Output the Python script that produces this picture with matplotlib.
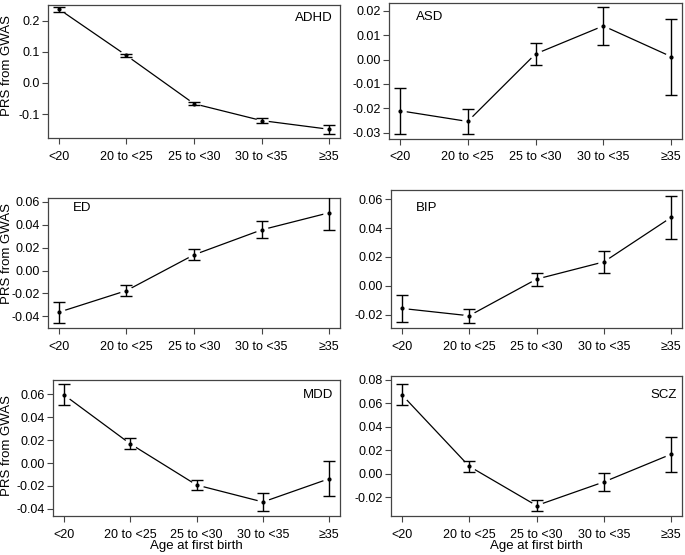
import numpy as np
import matplotlib.pyplot as plt

plt.rcParams['font.family'] = ['Liberation Sans', 'DejaVu Sans']

groups = ['<20', '20 to <25', '25 to <30', '30 to <35', '≥35']

traits = ['ADHD', 'ASD', 'ED', 'BIP', 'MDD', 'SCZ']

adhd_mean = [0.237, 0.088, -0.067, -0.121, -0.149]
adhd_err = [0.008, 0.004, 0.004, 0.007, 0.015]

asd_mean = [-0.0210, -0.0254, 0.0023, 0.0138, 0.0012]
asd_err = [0.0095, 0.0050, 0.0045, 0.0078, 0.0156]

ed_mean = [-0.0365, -0.0176, 0.0138, 0.0356, 0.0506]
ed_err = [0.0090, 0.0050, 0.0047, 0.0075, 0.0155]

bip_mean = [-0.0157, -0.0208, 0.0046, 0.0166, 0.0475]
bip_err = [0.0094, 0.0050, 0.0046, 0.0078, 0.0150]

mdd_mean = [0.0595, 0.0168, -0.0191, -0.0339, -0.0136]
mdd_err = [0.0090, 0.0048, 0.0047, 0.0075, 0.0153]

scz_mean = [0.0675, 0.0063, -0.0273, -0.0071, 0.0166]
scz_err = [0.0093, 0.0049, 0.0046, 0.0077, 0.0149]

means = [adhd_mean, asd_mean, ed_mean, bip_mean, mdd_mean, scz_mean]
errs = [adhd_err, asd_err, ed_err, bip_err, mdd_err, scz_err]

yticks = [
    [-0.1, 0.0, 0.1, 0.2],
    [-0.03, -0.02, -0.01, 0.00, 0.01, 0.02],
    [-0.04, -0.02, 0.00, 0.02, 0.04, 0.06],
    [-0.02, 0.00, 0.02, 0.04, 0.06],
    [-0.04, -0.02, 0.00, 0.02, 0.04, 0.06],
    [-0.02, 0.00, 0.02, 0.04, 0.06, 0.08],
]
tick_fmt = ['%.1f', '%.2f', '%.2f', '%.2f', '%.2f', '%.2f']
ylims = [(-0.177, 0.250), (-0.0326, 0.0232), (-0.0503, 0.0635),
         (-0.0293, 0.0665), (-0.0461, 0.0722), (-0.0362, 0.0834)]

# pixel boxes (left, top, right, bottom)
boxes = [(48, 5, 340, 138), (389, 3, 682, 139),
         (48, 198, 340, 328), (391, 190, 682, 328),
         (53, 380, 340, 516), (391, 376, 682, 516)]
# trait label anchor in axes fraction, and alignment
label_pos = [(0.976, 0.90, 'right'), (0.092, 0.90, 'left'),
             (0.086, 0.925, 'left'), (0.086, 0.87, 'left'),
             (0.976, 0.89, 'right'), (0.983, 0.864, 'right')]
ylabel_y = {0: 66, 2: 254, 4: 445}

W, H = 685, 555
fig = plt.figure(figsize=(W / 100, H / 100), dpi=100)

x = np.arange(1, 6)
frame_col = '#444444'

for i in range(6):
    l, t, r, b = boxes[i]
    ax = fig.add_axes([l / W, 1 - b / H, (r - l) / W, (b - t) / H])
    m = np.array(means[i])
    e = np.array(errs[i])

    # line with gaps around points (R type="b" look)
    ax.plot(x, m, color='black', lw=0.9, zorder=2)
    ax.plot(x, m, 'o', ms=9, mfc='white', mec='none', zorder=2.1)
    ax.errorbar(x, m, yerr=e, fmt='none', ecolor='black', elinewidth=1.0,
                capsize=4.5, capthick=1.0, zorder=3)
    ax.plot(x, m, 'o', ms=2, color='black', zorder=4)

    ax.set_xlim(0.84, 5.16)
    ax.set_ylim(*ylims[i])
    ax.set_xticks(x)
    ax.set_xticklabels(groups)
    ax.set_yticks(yticks[i])
    ax.set_yticklabels([tick_fmt[i] % v for v in yticks[i]])
    ax.tick_params(direction='out', length=4, width=0.8, labelsize=9,
                   color=frame_col, pad=2)
    ax.tick_params(axis='x', pad=5)
    for s in ax.spines.values():
        s.set_color(frame_col)
        s.set_linewidth(0.9)

    lx, ly, ha = label_pos[i]
    ax.text(lx, ly, traits[i], transform=ax.transAxes,
            ha=ha, va='center', fontsize=9.5)

    if i % 2 == 0:
        fig.text(7 / W, 1 - ylabel_y[i] / H, 'PRS from GWAS', rotation=90,
                 ha='center', va='center', fontsize=9.5)
    if i >= 4:
        ax.set_xlabel('Age at first birth', fontsize=9.5, labelpad=0)

fig.savefig('out.png', dpi=100)
